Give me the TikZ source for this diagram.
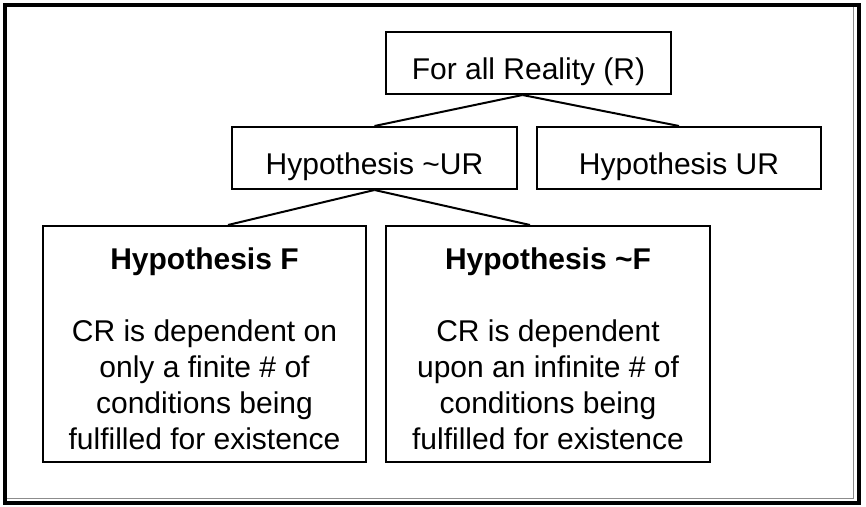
\documentclass[tikz,border=0pt]{standalone}
\usepackage{fontspec}
\setmainfont{Liberation Sans}
\tikzset{box/.style = {draw, line width=1pt, inner sep=0pt, align=center,
                       font=\fontsize{15pt}{18pt}\selectfont}}
\tikzset{small/.style = {box, minimum height=31pt, text height=20pt}}
\tikzset{tree/.style = {line width=1pt}}
\definecolor{mgray}{rgb}{0.55, 0.55, 0.55}

\begin{document}
\begin{tikzpicture}[x=0.5pt, y=-0.5pt]
    \useasboundingbox (0, 0) rectangle (866, 507);

    \draw [line width=2pt] (5, 5) rectangle (859, 503);
    \draw [mgray, line width=0.8pt] (7, 498.5) -- (853.5, 498.5) -- (853.5, 7);

    \node [small, minimum width=142.5pt] (r) at (528.5, 63) {For all Reality (R)};
    \node [small, minimum width=142.5pt] (nur) at (374.5, 158) {Hypothesis \textasciitilde UR};
    \node [small, minimum width=142pt] (ur) at (679, 158) {Hypothesis UR};

    \node [box, minimum width=161.5pt, minimum height=118pt] (f) at (204.5, 344)
        {\rule{0pt}{16pt}\textbf{Hypothesis F}\\[18pt] CR is dependent on\\ only a finite \# of\\
         conditions being\\ fulfilled for existence};
    \node [box, minimum width=162pt, minimum height=118pt] (nf) at (548, 344)
        {\rule{0pt}{16pt}\textbf{Hypothesis \textasciitilde F}\\[18pt] CR is dependent\\ upon an infinite \# of\\
         conditions being\\ fulfilled for existence};

    \draw [tree] ([xshift=-3pt]r.south) -- (nur.north);
    \draw [tree] ([xshift=-3pt]r.south) -- (ur.north);
    \draw [tree] (nur.south) -- ([xshift=11.75pt]f.north);
    \draw [tree] (nur.south) -- ([xshift=-9pt]nf.north);
\end{tikzpicture}
\end{document}
